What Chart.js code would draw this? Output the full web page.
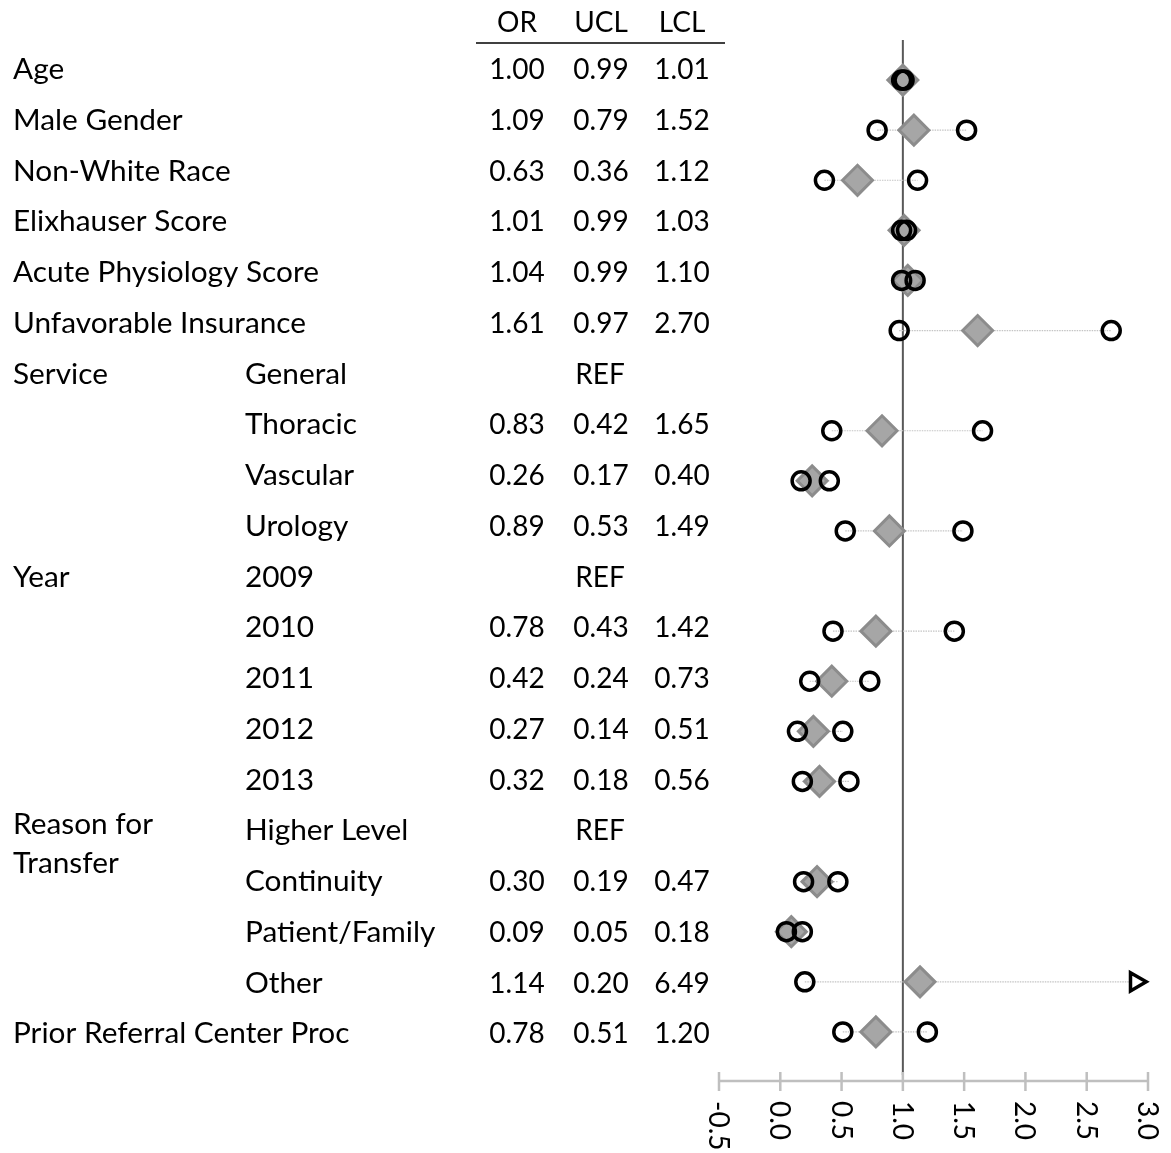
<!DOCTYPE html>
<html>
<head>
<meta charset="utf-8">
<script src="https://cdn.jsdelivr.net/npm/chart.js@4.4.1/dist/chart.umd.min.js"></script>
<style>
  html, body { margin: 0; padding: 0; background: #fff; }
</style>
</head>
<body>
<canvas id="chart" width="1171" height="1153"></canvas>
<script>
// odds ratios table (columns kept as labelled in the source)
const rowNames = ['Age', 'Male Gender', 'Non-White Race', 'Elixhauser Score', 'Acute Physiology Score',
  'Unfavorable Insurance', 'Service', '', '', '', 'Year', '', '', '', '', 'Reason for\nTransfer', '', '', '',
  'Prior Referral Center Proc'];
const subNames = ['', '', '', '', '', '', 'General', 'Thoracic', 'Vascular', 'Urology', '2009', '2010', '2011',
  '2012', '2013', 'Higher Level', 'Continuity', 'Patient/Family', 'Other', ''];
const orVals  = [1.00, 1.09, 0.63, 1.01, 1.04, 1.61, null, 0.83, 0.26, 0.89, null, 0.78, 0.42, 0.27, 0.32, null, 0.30, 0.09, 1.14, 0.78];
const uclVals = [0.99, 0.79, 0.36, 0.99, 0.99, 0.97, null, 0.42, 0.17, 0.53, null, 0.43, 0.24, 0.14, 0.18, null, 0.19, 0.05, 0.20, 0.51];
const lclVals = [1.01, 1.52, 1.12, 1.03, 1.10, 2.70, null, 1.65, 0.40, 1.49, null, 1.42, 0.73, 0.51, 0.56, null, 0.47, 0.18, 6.49, 1.20];
const colHeaders = ['OR', 'UCL', 'LCL'];
const xTicks = [-0.5, 0.0, 0.5, 1.0, 1.5, 2.0, 2.5, 3.0];
const refLine = 1;

const xMin = xTicks[0];
const xMax = xTicks[xTicks.length - 1];
const FONT = '28px Lato';
const LABEL_FONT = '29.8px Lato';

// build datasets from the arrays
const diamonds = [];
const circles = [];
const arrows = [];
const connectors = [];
orVals.forEach((v, i) => {
  if (v === null) return;
  diamonds.push({x: v, y: i});
  const lo = uclVals[i], hi = lclVals[i];
  [lo, hi].forEach(c => {
    if (c <= xMax) circles.push({x: c, y: i});
    else arrows.push({x: xMax - 0.1, y: i});
  });
  connectors.push({
    type: 'scatter',
    showLine: true,
    data: [{x: Math.min(lo, hi), y: i}, {x: Math.min(Math.max(lo, hi), xMax), y: i}],
    borderColor: '#c4c4c4',
    borderWidth: 1.2,
    borderDash: [1.5, 1],
    pointRadius: 0,
    order: 3
  });
});

const tablePlugin = {
  id: 'tablePlugin',
  afterDraw(chart) {
    const ctx = chart.ctx;
    const x = chart.scales.x;
    ctx.save();
    ctx.fillStyle = '#000';
    ctx.textBaseline = 'alphabetic';

    // header
    const colX = [517, 601, 682];
    ctx.font = FONT;
    ctx.textAlign = 'center';
    colHeaders.forEach((h, k) => ctx.fillText(h, colX[k], 32));
    ctx.strokeStyle = '#000';
    ctx.lineWidth = 1.5;
    ctx.beginPath();
    ctx.moveTo(476, 43);
    ctx.lineTo(725, 43);
    ctx.stroke();

    // rows
    const rowTop = 79, rowStep = 50.76;
    rowNames.forEach((name, i) => {
      const by = rowTop + rowStep * i;
      ctx.font = LABEL_FONT;
      ctx.textAlign = 'left';
      if (name.includes('\n')) {
        const parts = name.split('\n');
        ctx.fillText(parts[0], 13, by - 6);
        ctx.fillText(parts[1], 13, by + 33);
      } else if (name) {
        ctx.fillText(name, 13, by);
      }
      if (subNames[i]) ctx.fillText(subNames[i], 245, by);
      ctx.font = FONT;
      ctx.textAlign = 'center';
      if (orVals[i] === null) {
        ctx.fillText('REF', 600, by);
      } else {
        ctx.fillText(orVals[i].toFixed(2), colX[0], by);
        ctx.fillText(uclVals[i].toFixed(2), colX[1], by);
        ctx.fillText(lclVals[i].toFixed(2), colX[2], by);
      }
    });

    // x axis with crossing ticks and labels rotated clockwise
    const axisY = 1081;
    ctx.strokeStyle = '#bfbfbf';
    ctx.lineWidth = 2.5;
    ctx.beginPath();
    ctx.moveTo(x.getPixelForValue(xMin), axisY);
    ctx.lineTo(x.getPixelForValue(xMax), axisY);
    xTicks.forEach(t => {
      const px = x.getPixelForValue(t);
      ctx.moveTo(px, axisY - 9);
      ctx.lineTo(px, axisY + 10);
    });
    ctx.stroke();
    ctx.font = FONT;
    ctx.textAlign = 'left';
    ctx.textBaseline = 'middle';
    xTicks.forEach(t => {
      const px = x.getPixelForValue(t);
      ctx.save();
      ctx.translate(px, 1101);
      ctx.rotate(Math.PI / 2);
      ctx.fillText(t.toFixed(1), 0, 1);
      ctx.restore();
    });
    ctx.restore();
  }
};

const ctx = document.getElementById('chart').getContext('2d');
const myChart = new Chart(ctx, {
  type: 'scatter',
  data: {
    datasets: [
      {
        data: circles,
        pointStyle: 'circle',
        pointRadius: 9,
        pointBorderWidth: 3.5,
        pointBackgroundColor: 'rgba(0,0,0,0)',
        pointBorderColor: '#000',
        order: 0
      },
      {
        data: arrows,
        pointStyle: 'triangle',
        pointRotation: 90,
        pointRadius: 10.5,
        pointBorderWidth: 3.5,
        pointBackgroundColor: '#fff',
        pointBorderColor: '#000',
        order: 0
      },
      {
        data: diamonds,
        pointStyle: 'rectRot',
        pointRadius: 15,
        pointBorderWidth: 3,
        pointBackgroundColor: '#a6a6a6',
        pointBorderColor: '#8c8c8c',
        order: 1
      },
      ...connectors,
      {
        type: 'scatter',
        showLine: true,
        data: [{x: refLine, y: -0.8}, {x: refLine, y: 19.86}],
        borderColor: '#595959',
        borderWidth: 2,
        pointRadius: 0,
        order: 4
      }
    ]
  },
  options: {
    responsive: false,
    animation: false,
    clip: false,
    layout: { padding: { left: 719, right: 23, top: 40, bottom: 78 } },
    plugins: { legend: { display: false }, tooltip: { enabled: false } },
    scales: {
      x: { type: 'linear', min: xMin, max: xMax, display: false },
      y: { type: 'linear', min: -0.8, max: 19.86, reverse: true, display: false }
    }
  },
  plugins: [tablePlugin]
});
</script>
</body>
</html>
